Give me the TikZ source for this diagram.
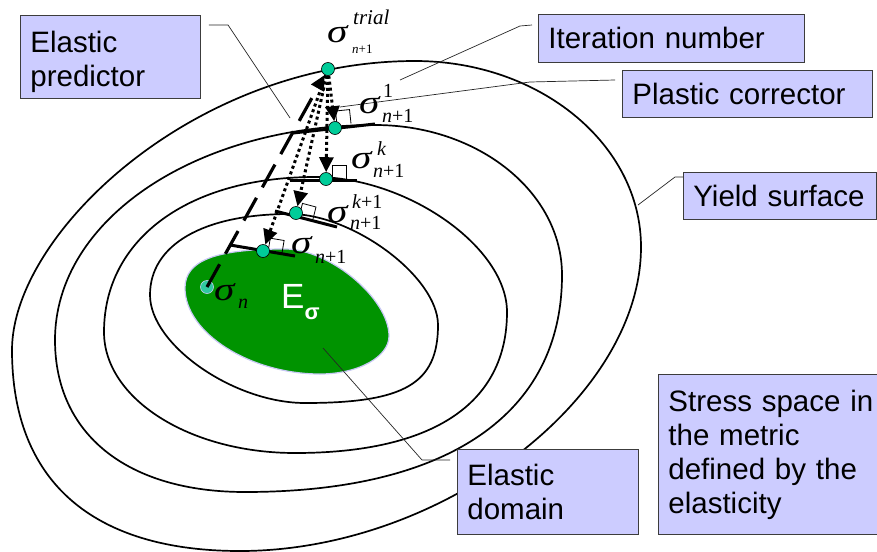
\documentclass[tikz,border=0pt]{standalone}
\usepackage{fontspec}
\setmainfont{Liberation Sans}
\newfontfamily\tmsfont{Liberation Serif}
\usetikzlibrary{arrows.meta,calc}
\definecolor{boxfill}{HTML}{CCCCFF}
\definecolor{boxline}{HTML}{3C3C3C}
\definecolor{dotc}{HTML}{00CC99}
\definecolor{dotn}{HTML}{2FC8A0}
\definecolor{elgreen}{HTML}{009300}
\definecolor{elrim}{HTML}{C8C8F5}
\newcommand\sgm{\scalebox{1.25}[1]{σ}}
\begin{document}
\begin{tikzpicture}[x=1pt,y=-1pt,
  box/.style={draw=boxline, line width=0.8pt, fill=boxfill, anchor=north west, align=left,
    inner xsep=10pt, inner ysep=0pt, font=\fontsize{29.5}{34}\selectfont},
  lead/.style={line width=0.7pt, draw=black!85},
  surf/.style={line width=1.7pt},
  tang/.style={line width=3pt},
  ptdot/.style={circle, draw=black, line width=0.6pt, fill=dotc, minimum size=13pt, inner sep=0pt},
  plast/.style={line width=3pt, dash pattern=on 3pt off 3pt, -{Triangle[length=15pt,width=14pt]}},
  elast/.style={line width=3.2pt, dash pattern=on 26pt off 12pt, -{Triangle[length=15pt,width=14pt]}},
  ramark/.style={line width=0.8pt},
  sig/.style={anchor=base west, inner sep=0pt, font=\tmsfont\itshape\fontsize{33}{33}\selectfont},
  scr/.style={anchor=base west, inner sep=0pt, font=\tmsfont\fontsize{20}{20}\selectfont},
  scrsmall/.style={anchor=base west, inner sep=0pt, font=\tmsfont\fontsize{13}{13}\selectfont}]
\useasboundingbox (0,0) rectangle (877,551);
\fill[white] (0,0) rectangle (877,551);

% yield surfaces
\draw[surf] (415,61) .. controls (539.8,61) and (641,144.3) .. (641,247)
  .. controls (641,399) and (440.5,551) .. (240,551)
  .. controls (91.8,551) and (12,480.7) .. (12,350)
  .. controls (12,234.4) and (193.4,61) .. cycle;
\draw[surf] (375,125) .. controls (478.2,125) and (562,192.2) .. (562,275)
  .. controls (562,413.9) and (447.9,492) .. (245,492)
  .. controls (127.2,492) and (55,434.2) .. (55,340)
  .. controls (55,219.6) and (195.8,125) .. cycle;
\draw[surf] (315,177) .. controls (407.2,177) and (507,247.2) .. (507,312)
  .. controls (507,403.7) and (432.8,453) .. (295,453)
  .. controls (189.6,453) and (104,398.8) .. (104,332)
  .. controls (104,239) and (188.4,177) .. cycle;
\draw[surf] (290,214) .. controls (353.6,214) and (438,277.3) .. (438,325)
  .. controls (438,383.5) and (404.8,403) .. (305,403)
  .. controls (233.7,403) and (150,344.7) .. (150,295)
  .. controls (150,244.8) and (203.2,214) .. cycle;

% elastic domain
\draw[fill=elgreen, draw=elrim, line width=1.2pt] (285,249) .. controls (329.7,249) and (389,298.6) .. (389,336)
  .. controls (389,357) and (358.1,374) .. (320,374)
  .. controls (249.8,374) and (185,332.7) .. (185,288)
  .. controls (185,260.7) and (215,249) .. cycle;
\node[anchor=base west, inner sep=0pt, text=white, font=\fontsize{35}{35}\selectfont] (es) at (281,308) {E\raisebox{-11pt}{\fontsize{22}{22}\selectfont\bfseries σ}};

% tangent segments
\draw[tang] (293,133) -- (375,124);
\draw[tang] (290,180) -- (357,180);
\draw[tang] (275,211) -- (337,227);
\draw[tang] (230,245) -- (295,256);
% right-angle marks
\draw[ramark] (337,125) -- (335.5,111) -- (349.5,109.6) -- (351,123.5);
\draw[ramark] (332,179) -- (332,165) -- (346,165) -- (346,179);
\draw[ramark] (299,217) -- (302.5,203.4) -- (316,207) -- (312.6,220.5);
\draw[ramark] (268,252) -- (270.3,238.2) -- (284.1,240.5) -- (281.8,254.3);

% boxes
\node[box, minimum width=180pt, minimum height=83pt, text width=160pt] (ep) at (20,15) {\rule{0pt}{32pt}Elastic\\predictor};
\node[box, minimum width=266pt, minimum height=48pt, text width=246pt] (in) at (538,14) {Iteration number};
\node[box, minimum width=250pt, minimum height=47pt, text width=230pt] (pc) at (622,70) {Plastic corrector};
\node[box, minimum width=193pt, minimum height=47pt, text width=173pt] (ys) at (683,172) {Yield surface};
\node[box, minimum width=181pt, minimum height=85pt, text width=161pt] (ed) at (457,449) {Elastic\\domain};
\node[box, minimum width=232pt, minimum height=160pt, text width=212pt] (ss) at (658,374) {Stress space in\\the metric\\defined by the\\elasticity};

% leader lines
\coordinate (epk) at (228,25); \coordinate (ept) at (290,118);
\draw[lead] ($(ep.north east)+(8,10)$) -- (epk) -- (ept);
\coordinate (ink) at (520,26); \coordinate (int) at (400,80);
\draw[lead] ($(in.north west)+(-6,11)$) -- (ink) -- (int);
\coordinate (pck) at (530,82); \coordinate (pct) at (340,107);
\draw[lead] ($(pc.north west)+(-7,10)$) -- (pck) -- (pct);
\coordinate (ysk) at (675,177); \coordinate (yst) at (638,205);
\draw[lead] ($(ys.north west)+(0,5)$) -- (ysk) -- (yst);
\coordinate (edk) at (422,460); \coordinate (edt) at (323,348);
\draw[lead] ($(ed.north west)+(-7,11)$) -- (edk) -- (edt);

% stress points
\node[ptdot, draw=elrim, fill=dotn] (sn) at (207,287) {};
\node[ptdot] (tr) at (328,69) {};
\node[ptdot] (s1) at (335,128) {};
\node[ptdot] (sk) at (326,179) {};
\node[ptdot] (sk1) at (296,213) {};
\node[ptdot] (sn1) at (263,251) {};

% predictor and corrector arrows
\draw[elast] (sn.center) -- (tr);
\draw[plast] (tr) -- (s1);
\draw[plast] (tr) -- (sk);
\draw[plast] (tr) -- (sk1);
\draw[plast] (tr) -- (sn1);

% labels
\node[sig] (lt) at (327,42) {\sgm};
\node[scr, font=\tmsfont\itshape\fontsize{21}{21}\selectfont] (lts) at (353,25) {trial};
\node[scrsmall] (ltn) at (352,53) {{\itshape n}+1};
\node[sig] (l1) at (359,113) {\sgm};
\node[scr] (l1s) at (383,97) {1};
\node[scr] (l1n) at (382,122) {{\itshape n}+1};
\node[sig] (lk) at (351,168) {\sgm};
\node[scr] (lks) at (377,155) {\itshape k};
\node[scr] (lkn) at (373,177) {{\itshape n}+1};
\node[sig] (lk1) at (327,222) {\sgm};
\node[scr] (lk1s) at (352,208) {{\itshape k}+1};
\node[scr] (lk1n) at (350,229) {{\itshape n}+1};
\node[sig] (ln1) at (291,253) {\sgm};
\node[scr] (ln1n) at (315,263) {{\itshape n}+1};
\node[sig] (ln) at (214,300) {\sgm};
\node[scr] (lnn) at (238,308) {\itshape n};
\end{tikzpicture}
\end{document}
